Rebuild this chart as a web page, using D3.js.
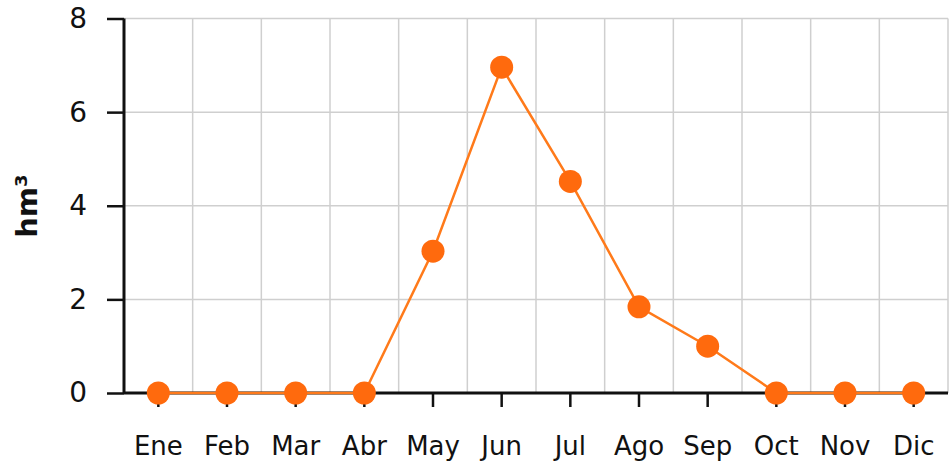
<!DOCTYPE html>
<html>
<head>
<meta charset="utf-8">
<script src="https://cdn.jsdelivr.net/npm/d3@7"></script>
<style>
  body { margin: 0; background: #fff; }
  svg text { font-family: "DejaVu Sans", Verdana, sans-serif; fill: #111; }
</style>
</head>
<body>
<div id="chart"></div>
<script>
const months = ['Ene', 'Feb', 'Mar', 'Abr', 'May', 'Jun', 'Jul', 'Ago', 'Sep', 'Oct', 'Nov', 'Dic'];
const volumes = [0, 0, 0, 0, 3.03, 6.96, 4.52, 1.84, 1.0, 0, 0, 0];
const yTicks = [0, 2, 4, 6, 8];

const width = 952, height = 462;
const margin = {left: 124, right: 4, top: 18.5, bottom: 69};

const svg = d3.select('#chart')
    .append('svg')
    .attr('width', width)
    .attr('height', height);

const xAxis = d3.scaleBand()
    .domain(months)
    .range([margin.left, width - margin.right])
    .padding(0);

const yAxis = d3.scaleLinear()
    .domain([0, 8])
    .range([height - margin.bottom, margin.top]);

// grid
const grid = svg.append('g').attr('class', 'grid');
grid.selectAll('.h-grid')
    .data(yTicks)
    .enter()
    .append('line')
    .attr('x1', margin.left)
    .attr('x2', width - margin.right)
    .attr('y1', d => yAxis(d))
    .attr('y2', d => yAxis(d))
    .attr('stroke', '#cfcfcf')
    .attr('stroke-width', 1.5);

grid.selectAll('.v-grid')
    .data(months)
    .enter()
    .append('line')
    .attr('x1', d => xAxis(d) + xAxis.bandwidth())
    .attr('x2', d => xAxis(d) + xAxis.bandwidth())
    .attr('y1', yAxis(8))
    .attr('y2', yAxis(0))
    .attr('stroke', '#cfcfcf')
    .attr('stroke-width', 1.5);

// axes
const yAxisLine = d3.axisLeft(yAxis).tickValues(yTicks).tickSize(17).tickPadding(20);
const yG = svg.append('g')
    .attr('transform', 'translate(' + margin.left + ',0)')
    .call(yAxisLine);
yG.select('.domain').attr('stroke', '#111').attr('stroke-width', 3).attr('d', `M0,${yAxis(8)}V${yAxis(0)}`);
yG.selectAll('.tick line').attr('stroke', '#111').attr('stroke-width', 2.5);
yG.selectAll('.tick text').attr('font-size', '28px').attr('fill', '#111');

const xAxisLine = d3.axisBottom(xAxis).tickSize(14).tickPadding(30);
const xG = svg.append('g')
    .attr('transform', 'translate(0,' + yAxis(0) + ')')
    .call(xAxisLine);
xG.select('.domain').attr('stroke', '#111').attr('stroke-width', 3).attr('d', `M${margin.left},0H${width - margin.right}`);
xG.selectAll('.tick line').attr('stroke', '#111').attr('stroke-width', 2.5);
xG.selectAll('.tick text').attr('font-size', '26px').attr('fill', '#111');

// y label
svg.append('text')
    .attr('transform', 'translate(37,206) rotate(-90)')
    .attr('text-anchor', 'middle')
    .attr('font-size', '29px')
    .attr('font-weight', 'bold')
    .text('hm³');

// line + points
const cx = d => xAxis(d) + xAxis.bandwidth() / 2;
const line = d3.line()
    .x((d, i) => cx(months[i]))
    .y(d => yAxis(d));

svg.append('path')
    .datum(volumes)
    .attr('d', line)
    .attr('fill', 'none')
    .attr('stroke', '#ff7a1a')
    .attr('stroke-width', 2.5);

svg.selectAll('.point')
    .data(volumes)
    .enter()
    .append('circle')
    .attr('class', 'point')
    .attr('cx', (d, i) => cx(months[i]))
    .attr('cy', d => yAxis(d))
    .attr('r', 11.5)
    .attr('fill', '#ff6a0d');
</script>
</body>
</html>
